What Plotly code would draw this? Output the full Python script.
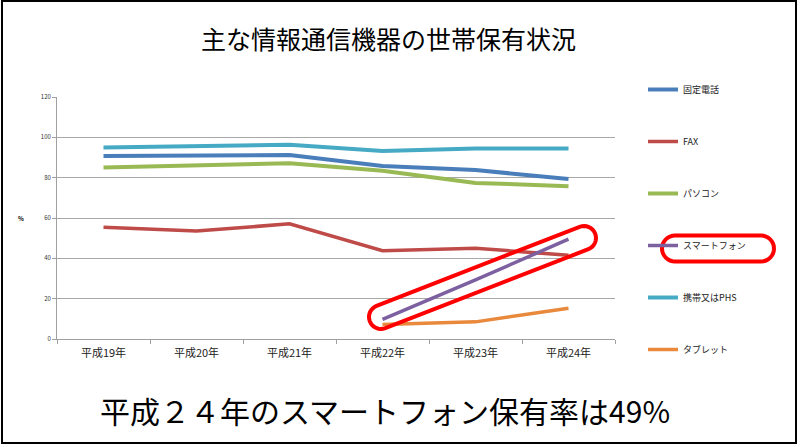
import math
import plotly.graph_objects as go

years = ["平成19年", "平成20年", "平成21年", "平成22年", "平成23年", "平成24年"]
fixed_phone = [90.7, 90.9, 91.2, 85.8, 83.8, 79.3]
fax = [55.4, 53.5, 57.1, 43.8, 45.0, 41.5]
pc = [85.0, 85.9, 87.2, 83.4, 77.4, 75.8]
smartphone = [None, None, None, 9.7, 29.3, 49.5]
mobile_phs = [95.0, 95.6, 96.3, 93.2, 94.5, 94.5]
tablet = [None, None, None, 7.2, 8.5, 15.3]
y_ticks = [0, 20, 40, 60, 80, 100, 120]

series = [
    ("固定電話", fixed_phone, "#4A7EBB", 4),
    ("FAX", fax, "#BE4B48", 3.5),
    ("パソコン", pc, "#98B954", 4),
    ("スマートフォン", smartphone, "#7D60A0", 3.5),
    ("携帯又はPHS", mobile_phs, "#46AAC5", 4),
    ("タブレット", tablet, "#E8893C", 3.5),
]

W, H = 800, 447
L, R, T, B = 57, 615, 97, 339  # plot area in pixels

def px(x):
    return (x - L) / (R - L)

def py(y):
    return (B - y) / (B - T)

fig = go.Figure()
for i, (name, vals, col, lw) in enumerate(series):
    fig.add_trace(go.Scatter(
        x=years, y=vals, name=name, mode="lines",
        line=dict(color=col, width=lw), legendgroup=f"g{i}",
        connectgaps=False,
    ))

# capsule (rounded, rotated) highlight
def capsule(p1, p2, r, n=16):
    dx, dy = p2[0] - p1[0], p2[1] - p1[1]
    ln = math.hypot(dx, dy)
    ux, uy = dx / ln, dy / ln
    ang = math.atan2(uy, ux)
    pts = []
    for k in range(n + 1):
        a = ang - math.pi / 2 + math.pi * k / n
        pts.append((p2[0] + r * math.cos(a), p2[1] + r * math.sin(a)))
    for k in range(n + 1):
        a = ang + math.pi / 2 + math.pi * k / n
        pts.append((p1[0] + r * math.cos(a), p1[1] + r * math.sin(a)))
    return "M " + " L ".join(f"{px(x):.4f},{py(y):.4f}" for x, y in pts) + " Z"

shapes = [
    dict(type="path", xref="paper", yref="paper",
         path=capsule((381, 317), (584, 238), 12),
         line=dict(color="#FF0000", width=4)),
    dict(type="path", xref="paper", yref="paper",
         path=capsule((675, 248.5), (761, 248.5), 13),
         line=dict(color="#FF0000", width=4)),
    dict(type="rect", xref="paper", yref="paper",
         x0=px(2), x1=px(796), y0=py(443), y1=py(1),
         line=dict(color="black", width=2)),
]

fig.update_layout(
    width=W, height=H,
    margin=dict(l=L, r=W - R, t=T, b=H - B, pad=0),
    paper_bgcolor="white", plot_bgcolor="white",
    font=dict(family="Noto Sans CJK JP", color="#222"),
    showlegend=True,
    legend=dict(x=px(643), y=py(75), xanchor="left", yanchor="top",
                font=dict(size=9, color="#222"), tracegroupgap=33,
                maxheight=420, bgcolor="rgba(0,0,0,0)"),
    xaxis=dict(type="category", range=[-0.5, 5.5], showgrid=False,
               showline=True, linecolor="#A0A0A0", linewidth=1,
               ticks="outside", tickson="boundaries", ticklen=4,
               tickcolor="#A0A0A0", ticklabelstandoff=4,
               tickfont=dict(size=11, color="#222")),
    yaxis=dict(range=[0, 120], tickvals=y_ticks, showgrid=True,
               gridcolor="#A8A8A8", gridwidth=1, zeroline=False,
               showline=True, linecolor="#A0A0A0", linewidth=1,
               ticks="outside", ticklen=4, tickcolor="#A0A0A0",
               tickfont=dict(size=6, color="#333")),
    shapes=shapes,
    annotations=[
        dict(text="主な情報通信機器の世帯保有状況", xref="paper", yref="paper",
             x=px(388), y=py(38), showarrow=False,
             font=dict(size=25, color="black"), xanchor="center", yanchor="middle"),
        dict(text="平成２４年のスマートフォン保有率は49%", xref="paper", yref="paper",
             x=px(385), y=py(410), showarrow=False,
             font=dict(size=30, color="black"), xanchor="center", yanchor="middle"),
        dict(text="<b>%</b>", xref="paper", yref="paper",
             x=px(21), y=py(218), showarrow=False,
             font=dict(size=6, color="black"), xanchor="center", yanchor="middle"),
    ],
)

fig.write_html("out.html", config={"displayModeBar": False},
               post_script="document.body.style.margin='0';document.body.style.overflow='hidden';")
